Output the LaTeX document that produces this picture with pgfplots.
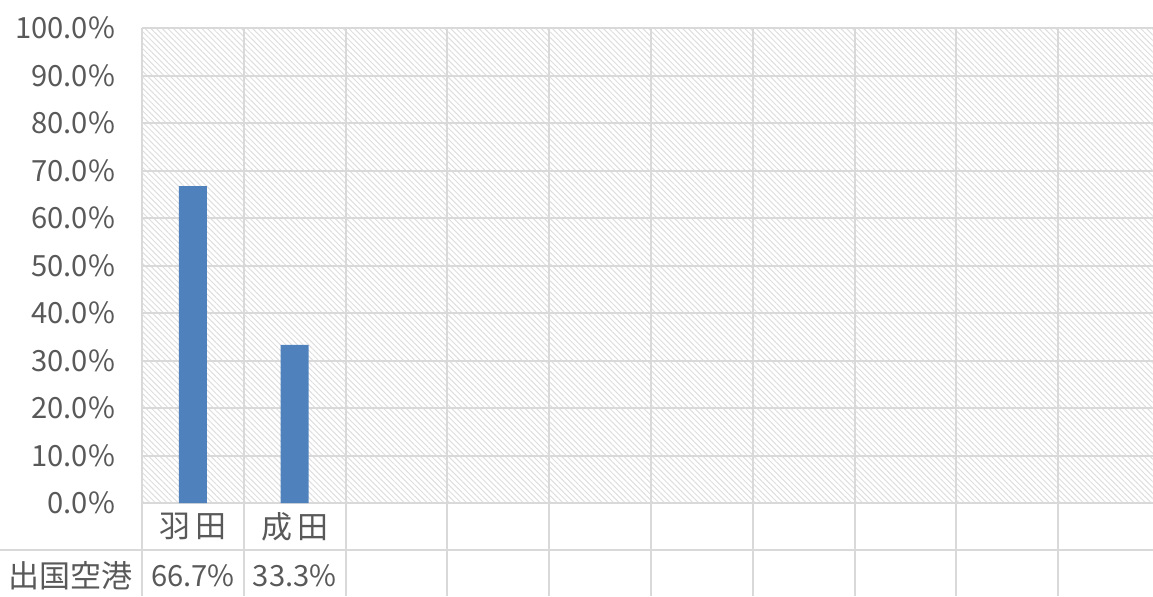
\documentclass[border=0pt]{standalone}
\usepackage{fontspec}
\setmainfont{Noto Sans CJK JP}
\usepackage{pgfplots}
\pgfplotsset{compat=1.18}
\usetikzlibrary{patterns.meta}
\definecolor{barblue}{HTML}{4F81BD}
\definecolor{gridc}{HTML}{D9D9D9}
\definecolor{txt}{HTML}{595959}
\definecolor{hatch}{HTML}{DEDEDE}
\begin{document}
\begin{tikzpicture}
\begin{axis}[
  width=509pt, height=237.5pt, scale only axis,
  xmin=0, xmax=10, ymin=0, ymax=100,
  axis line style={draw=none},
  xtick={0,...,10}, xticklabels={}, major tick length=0pt,
  ytick={0,10,...,100},
  ymajorgrids, grid style={gridc, line width=1pt},
  yticklabel={\pgfmathprintnumber[fixed,fixed zerofill,precision=1]{\tick}\%},
  /pgf/number format/assume math mode=true,
  tick label style={font=\fontsize{14.6}{16}\selectfont, text=txt},
  yticklabel style={xshift=-10pt},
  axis background/.style={pattern={Lines[angle=-45,distance=2pt,line width=0.5pt]}, pattern color=hatch},
  clip=false,
  ybar, bar width=14pt,
]
\pgfplotsinvokeforeach{0,1,2,3,4,5,6,7,8,9,10}{
  \draw[gridc, line width=1pt] (axis cs:#1,100) -- (axis cs:#1,-19.6);
}
\draw[gridc, line width=1pt] (axis cs:-1.395,-9.9) -- (axis cs:10,-9.9);
\draw[gridc, line width=1pt] (axis cs:0,0) -- (axis cs:10,0);
\addplot[fill=barblue, draw=none] coordinates {(0.5,66.7) (1.5,33.3)};
\node[font=\fontsize{15.5}{17}\selectfont, text=txt] at (axis cs:0.5,-5.0) {羽\,田};
\node[font=\fontsize{15.5}{17}\selectfont, text=txt] at (axis cs:1.5,-5.0) {成\,田};
\node[font=\fontsize{15.5}{17}\selectfont, text=txt] at (axis cs:-0.70,-15.3) {出国空港};
\node[font=\fontsize{14.6}{16}\selectfont, text=txt] at (axis cs:0.5,-15.3) {66.7\%};
\node[font=\fontsize{14.6}{16}\selectfont, text=txt] at (axis cs:1.5,-15.3) {33.3\%};
\coordinate (bl) at (axis cs:-1.395,-19.6);
\coordinate (tr) at (axis cs:9.931,105.9);
\end{axis}
\pgfresetboundingbox
\useasboundingbox (bl) rectangle (tr);
\end{tikzpicture}
\end{document}
